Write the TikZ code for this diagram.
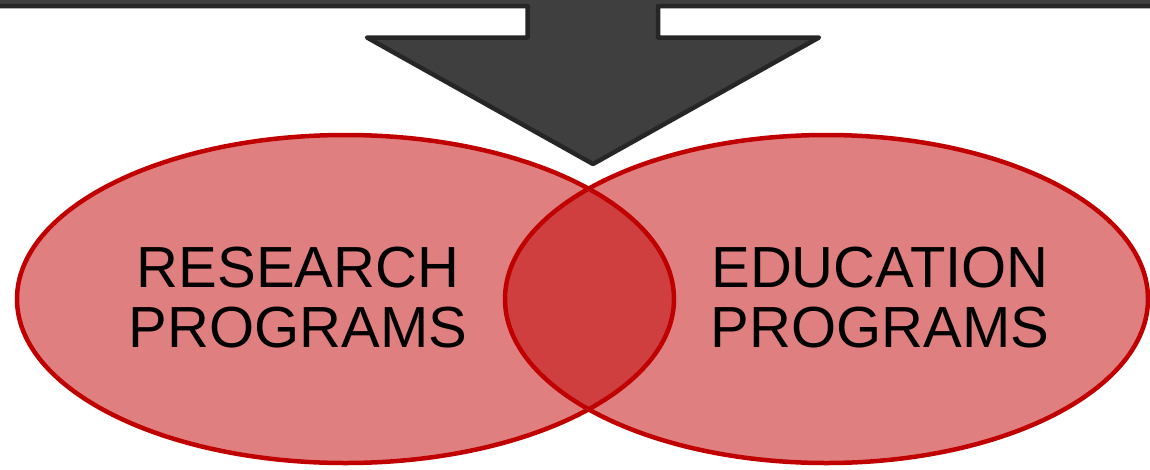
\documentclass[tikz,border=0pt]{standalone}
\usepackage{fontspec}
\setmainfont{Liberation Sans}
\definecolor{vennred}{RGB}{192, 0, 0}
\definecolor{arrowgray}{RGB}{63, 63, 63}
\definecolor{arrowedge}{RGB}{38, 38, 38}
\usepackage{tikz}
\usetikzlibrary{shapes, shapes.geometric, calc}

\tikzset{
    vennfill/.style = {fill = vennred, fill opacity = 0.5},
    vennline/.style = {draw = vennred, line width = 4.5pt},
    vennlabel/.style = {align = center, inner sep = 0pt, font = \fontsize{58}{60}\selectfont},
    bigarrow/.style = {fill = arrowgray, draw = arrowedge, line width = 4.5pt, line join = round}
}

\begin{document}
\begin{tikzpicture}[x = 1pt, y = -1pt]
        \useasboundingbox (0, 0) rectangle (1150, 469);
        \clip (0, 0) rectangle (1150, 469);

        \fill [vennfill] (345.5, 299) ellipse [x radius = 328.5pt, y radius = 164pt];
        \fill [vennfill] (826.5, 299) ellipse [x radius = 321.5pt, y radius = 164pt];
        \draw [vennline] (345.5, 299) ellipse [x radius = 328.5pt, y radius = 164pt];
        \draw [vennline] (826.5, 299) ellipse [x radius = 321.5pt, y radius = 164pt];

        \draw [bigarrow] (-10, -20) -- (-10, 6) -- (527.5, 6) -- (527.5, 37.5) -- (367, 37.5) -- (593, 164)
            -- (819, 37.5) -- (658, 37.5) -- (658, 6) -- (1160, 6) -- (1160, -20) -- cycle;

        \node (research) [vennlabel, anchor = base] at (298, 347) {RESEARCH\\PROGRAMS};
        \node (education) [vennlabel, anchor = base] at (880, 347) {EDUCATION\\PROGRAMS};
    \end{tikzpicture}
\end{document}
